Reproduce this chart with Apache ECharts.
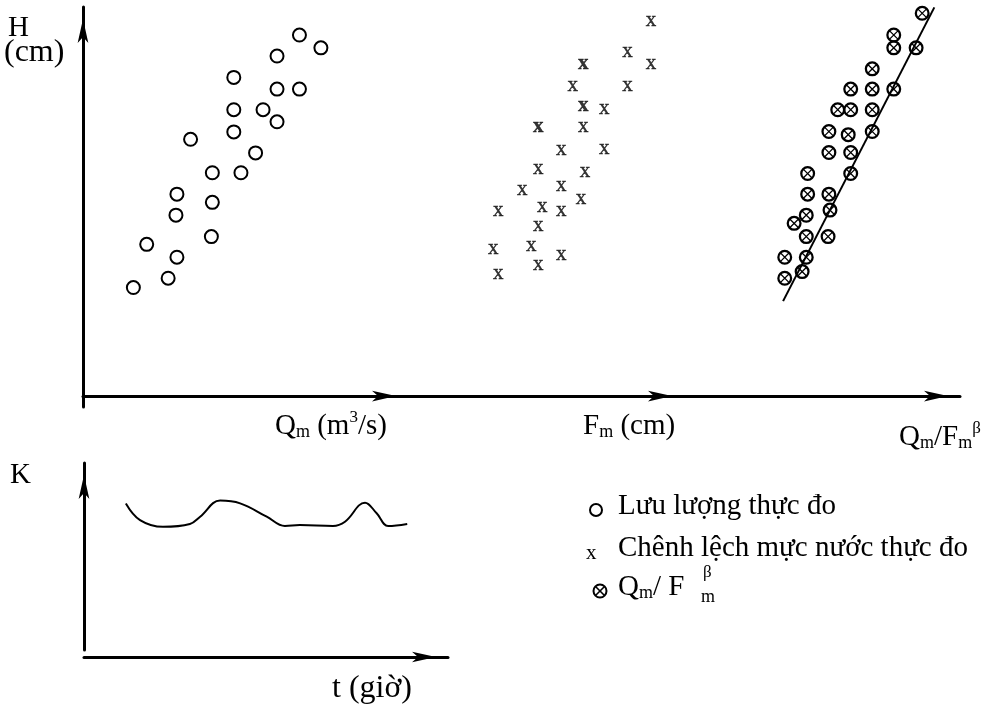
<!DOCTYPE html>
<html>
<head>
<meta charset="utf-8">
<script src="https://cdn.jsdelivr.net/npm/echarts@6/dist/echarts.min.js"></script>
<style>html,body{margin:0;padding:0;background:#fff;}#chart{width:988px;height:704px;}</style>
</head>
<body>
<div id="chart"></div>
<script>
// ---- Data (arbitrary units 0..100) ----
// Panel 1: H vs Qm (measured discharge, circles)
var qFlow = [66.6, 73.2, 59.7, 46.4, 59.7, 66.6, 46.4, 55.4, 59.7, 46.4, 33.1, 53.1, 39.8, 48.6, 28.9, 39.8, 28.6, 39.5, 19.6, 28.9, 26.2, 15.5];
var hFlow = [92.8, 89.5, 87.4, 81.9, 78.9, 78.9, 73.6, 73.6, 70.5, 67.9, 66.0, 62.5, 57.4, 57.4, 51.9, 49.8, 46.5, 41.0, 39.0, 35.7, 30.3, 27.9];
// Panel 2: H vs Fm (measured level difference, "x")
var fDiff = [88.0, 79.5, 88.0, 59.7, 79.5, 71.1, 63.5, 55.5, 71.1, 47.2, 64.1, 41.4, 55.5, 62.7, 32.7, 48.6, 55.5, 47.2, 30.9, 44.7, 55.5, 47.2, 32.7];
var hDiff = [96.0, 88.1, 85.0, 79.4, 79.4, 73.5, 68.9, 62.9, 63.1, 58.1, 57.2, 52.5, 53.5, 50.2, 47.2, 48.1, 47.2, 43.4, 37.4, 38.1, 36.0, 33.2, 31.0];
var fDiffBold = [63.5, 63.5, 47.2];
var hDiffBold = [85.0, 74.1, 68.7];
// Panel 3: H vs Qm/Fm^beta
var ratio = [86.3, 76.0, 76.0, 84.1, 68.2, 60.4, 68.2, 76.0, 55.7, 60.4, 68.2, 52.5, 59.5, 68.2, 52.5, 60.4, 60.4, 44.8, 44.8, 52.5, 52.9, 44.3, 39.9, 44.3, 52.2, 36.5, 44.3, 42.8, 36.5];
var hRatio = [98.4, 92.8, 89.5, 89.5, 84.1, 78.9, 78.9, 78.9, 73.6, 73.6, 73.6, 68.0, 67.2, 68.0, 62.6, 62.6, 57.2, 57.2, 51.9, 51.9, 47.8, 46.5, 44.4, 41.0, 41.0, 35.7, 35.7, 32.0, 30.3];
var fitRatio = [35.9, 90.7];
var fitH = [24.4, 99.9];
// Bottom panel: K vs t
var tHours = [11.5, 15.4, 21.7, 29.1, 31.9, 37.4, 42.9, 50.2, 55.2, 59.3, 68.4, 71.7, 77.2, 80.4, 83.6, 88.8];
var kCoef = [78.4, 69.5, 65.9, 67.4, 71.3, 79.9, 78.4, 71.3, 66.3, 66.8, 66.3, 68.6, 78.8, 73.1, 66.3, 67.4];

function zip(a, b) { return a.map(function (v, i) { return [v, b[i]]; }); }

var SERIF = "'Liberation Serif', 'DejaVu Serif', serif";
var FS = 29;
var otimes = 'path://M0,10 A10,10 0 1,1 20,10 A10,10 0 1,1 0,10 Z M3,10 A7,7 0 1,0 17,10 A7,7 0 1,0 3,10 Z ' +
  'M4.4,3.2 L16.8,15.6 L15.6,16.8 L3.2,4.4 Z M15.6,3.2 L16.8,4.4 L4.4,16.8 L3.2,15.6 Z';

var axisLineStyle = { color: '#000', width: 3 };
function xAx(idx, show) {
  return {
    type: 'value', gridIndex: idx, min: 0, max: 100,
    axisLine: { show: show, onZero: true, lineStyle: axisLineStyle, symbol: ['none', 'arrow'], symbolSize: [8, 24], symbolOffset: [0, -12] },
    axisTick: { show: false }, axisLabel: { show: false }, splitLine: { show: false }
  };
}
function yAx(idx, show) {
  return {
    type: 'value', gridIndex: idx, min: -2.8, max: 100,
    axisLine: { show: show, onZero: false, lineStyle: axisLineStyle, symbol: ['none', 'arrow'], symbolSize: [8, 24], symbolOffset: [0, -12] },
    axisTick: { show: false }, axisLabel: { show: false }, splitLine: { show: false }
  };
}

var xLabelStyle = {
  show: true, position: 'inside', formatter: 'x', color: '#000',
  fontFamily: SERIF, fontSize: 21, offset: [0, -2],
  textBorderColor: '#000', textBorderWidth: 0.4
};
var richBase = {
  b: { fontFamily: SERIF, fontSize: FS, lineHeight: 32, verticalAlign: 'bottom', color: '#000' },
  s: { fontFamily: SERIF, fontSize: 18, lineHeight: 22, verticalAlign: 'bottom', color: '#000' },
  p: { fontFamily: SERIF, fontSize: 17, lineHeight: 20, verticalAlign: 'top', color: '#000' }
};
function txt(x, y, s, size) {
  return { type: 'text', x: x, y: y, style: { text: s, font: (size || FS) + 'px ' + SERIF, fill: '#000', verticalAlign: 'middle' } };
}
function rtxt(x, y, s) {
  return { type: 'text', x: x, y: y, style: { text: s, rich: richBase, verticalAlign: 'middle' } };
}

var option = {
  backgroundColor: '#fff',
  animation: false,
  grid: [
    { left: 83, top: 7, width: 325, height: 400 },
    { left: 408, top: 7, width: 276, height: 400 },
    { left: 684, top: 7, width: 276, height: 400 },
    { left: 84, top: 463, width: 364, height: 187 }
  ],
  xAxis: [
    xAx(0, true), xAx(1, true), xAx(2, true),
    {
      type: 'value', gridIndex: 3, min: 0, max: 100, offset: 7,
      axisLine: { show: true, onZero: false, lineStyle: axisLineStyle, symbol: ['none', 'arrow'], symbolSize: [8, 24], symbolOffset: [0, -12] },
      axisTick: { show: false }, axisLabel: { show: false }, splitLine: { show: false }
    }
  ],
  yAxis: [
    yAx(0, true), yAx(1, false), yAx(2, false),
    {
      type: 'value', gridIndex: 3, min: 0, max: 100,
      axisLine: { show: true, onZero: false, lineStyle: axisLineStyle, symbol: ['none', 'arrow'], symbolSize: [8, 24], symbolOffset: [0, -12] },
      axisTick: { show: false }, axisLabel: { show: false }, splitLine: { show: false }
    }
  ],
  series: [
    {
      name: 'Lưu lượng thực đo', type: 'scatter', xAxisIndex: 0, yAxisIndex: 0, clip: false,
      symbol: 'circle', symbolSize: 13,
      itemStyle: { color: '#fff', borderColor: '#000', borderWidth: 2, opacity: 1 },
      data: zip(qFlow, hFlow)
    },
    {
      name: 'Chênh lệch mực nước thực đo', type: 'scatter', xAxisIndex: 1, yAxisIndex: 1, clip: false,
      symbol: 'circle', symbolSize: 1, itemStyle: { color: 'rgba(0,0,0,0)' },
      label: xLabelStyle,
      data: zip(fDiff, hDiff)
    },
    {
      name: 'Chênh lệch mực nước thực đo (đậm)', type: 'scatter', xAxisIndex: 1, yAxisIndex: 1, clip: false,
      symbol: 'circle', symbolSize: 1, itemStyle: { color: 'rgba(0,0,0,0)' },
      label: Object.assign({}, xLabelStyle, { fontWeight: 'bold' }),
      data: zip(fDiffBold, hDiffBold)
    },
    {
      name: 'Đường quan hệ', type: 'line', xAxisIndex: 2, yAxisIndex: 2, clip: false,
      showSymbol: false, lineStyle: { color: '#000', width: 2 },
      data: zip(fitRatio, fitH), z: 1
    },
    {
      name: 'Qm/Fm^β', type: 'scatter', xAxisIndex: 2, yAxisIndex: 2, clip: false,
      symbol: otimes, symbolSize: 15,
      itemStyle: { color: '#000', opacity: 1 },
      data: zip(ratio, hRatio), z: 3
    },
    {
      name: 'K', type: 'line', xAxisIndex: 3, yAxisIndex: 3, clip: false,
      smooth: 0.4, showSymbol: false, lineStyle: { color: '#000', width: 2 },
      data: zip(tHours, kCoef)
    }
  ],
  graphic: [
    txt(8, 28, 'H'),
    txt(4, 53, '(cm)', 32),
    txt(10, 475, 'K'),
    txt(332, 689, 't (giờ)', 32),
    rtxt(275, 425, '{b|Q}{s|m}{b| (m}{p|3}{b|/s)}'),
    rtxt(583, 425, '{b|F}{s|m}{b| (cm)}'),
    rtxt(899, 436, '{b|Q}{s|m}{b|/F}{s|m}{p|β}'),
    // legend
    { type: 'circle', shape: { cx: 596, cy: 510, r: 6 }, style: { fill: '#fff', stroke: '#000', lineWidth: 2 } },
    txt(618, 506, 'Lưu lượng thực đo'),
    txt(586, 553, 'x', 21),
    txt(618, 548, 'Chênh lệch mực nước thực đo'),
    { type: 'circle', shape: { cx: 600, cy: 591, r: 6.5 }, style: { fill: '#fff', stroke: '#000', lineWidth: 2 } },
    { type: 'line', shape: { x1: 595.5, y1: 586.5, x2: 604.5, y2: 595.5 }, style: { stroke: '#000', lineWidth: 1.6 } },
    { type: 'line', shape: { x1: 604.5, y1: 586.5, x2: 595.5, y2: 595.5 }, style: { stroke: '#000', lineWidth: 1.6 } },
    rtxt(618, 586, '{b|Q}{s|m}{b|/ F}'),
    txt(703, 573, 'β', 17),
    txt(701, 597, 'm', 18)
  ]
};

var chart = echarts.init(document.getElementById('chart'), null, { renderer: 'canvas' });
chart.setOption(option);
</script>
</body>
</html>
